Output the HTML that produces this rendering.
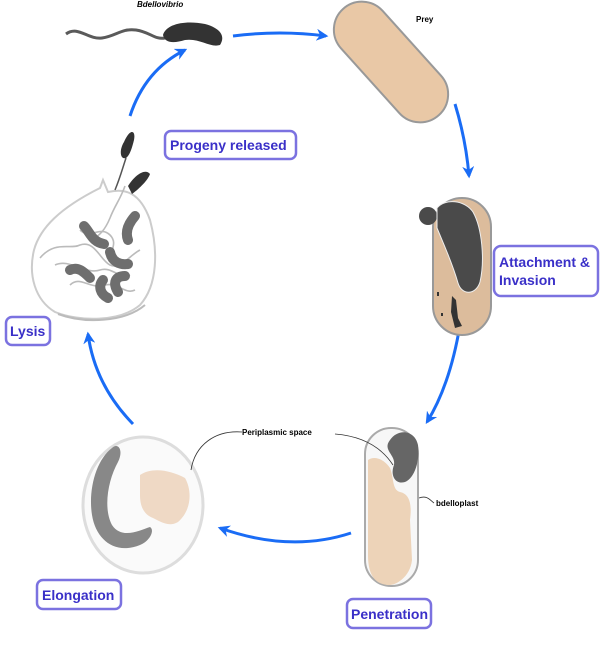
<!DOCTYPE html>
<html><head><meta charset="utf-8"><style>
html,body{margin:0;padding:0;background:#fff;}
svg{display:block;font-family:"Liberation Sans",sans-serif;}
.lbl{fill:#fff;stroke:#7b72e0;stroke-width:2.5;}
.lt{fill:#3a30c8;font-weight:bold;font-size:14px;}
.arr{fill:none;stroke:#1a6cf5;stroke-width:3;}
</style></head><body>
<svg width="600" height="649" viewBox="0 0 600 649" xmlns="http://www.w3.org/2000/svg">
<defs>
<marker id="ah" viewBox="0 0 10 10" refX="8" refY="5" markerWidth="4" markerHeight="4" orient="auto"><path d="M0,0 L10,5 L0,10 L3,5z" fill="#1a6cf5"/></marker>
</defs>

<path class="arr" d="M233,36 Q280,30 326,36" marker-end="url(#ah)"/>
<path class="arr" d="M455,104 Q466,140 469,176" marker-end="url(#ah)"/>
<path class="arr" d="M460,325 Q450,385 427,422" marker-end="url(#ah)"/>
<path class="arr" d="M351,533 Q290,553 220,528" marker-end="url(#ah)"/>
<path class="arr" d="M133,424 Q95,385 88,334" marker-end="url(#ah)"/>
<path class="arr" d="M130,116 Q145,70 185,50" marker-end="url(#ah)"/>

<text x="137" y="7" font-size="8" font-weight="bold" font-style="italic">Bdellovibrio</text>
<path d="M66,34 C78,25 88,40 102,38 C116,36 122,28 136,30 C150,32 155,40 165,38" fill="none" stroke="#5a5a5a" stroke-width="3"/>
<path d="M163,35 C166,24 185,20 205,24 C220,28 226,36 220,45 C210,48 200,38 185,40 C175,43 165,44 163,35z" fill="#333"/>

<text x="416" y="22" font-size="8" font-weight="bold">Prey</text>
<rect x="319.5" y="34" width="143" height="56" rx="28" fill="#e9c8a6" stroke="#999" stroke-width="2" transform="rotate(48 391 62)"/>

<rect x="433" y="198" width="58" height="137" rx="29" fill="#dcbc9c" stroke="#999" stroke-width="2"/>
<circle cx="428" cy="216" r="9" fill="#4a4a4a"/>
<path d="M437,208 C445,198 465,200 473,212 C482,228 485,260 480,282 C476,295 462,296 458,283 C452,262 444,245 437,228z" fill="#4a4a4a" stroke="#eee" stroke-width="1"/>
<path d="M452,296 L456,300 L458,318 L462,326 L455,328 L451,312z" fill="#333"/>
<rect x="437" y="292" width="2" height="4" fill="#333"/>
<rect x="441" y="313" width="2" height="3" fill="#333"/>
<rect x="494" y="246" width="104" height="50" rx="7" class="lbl"/>
<text x="499" y="267" class="lt">Attachment &amp;</text>
<text x="499" y="285" class="lt">Invasion</text>

<rect x="365" y="428" width="53" height="158" rx="26" fill="#f7f7f7" stroke="#aaa" stroke-width="2"/>
<path d="M368,460 C375,455 385,460 390,468 C394,478 392,490 400,492 C410,494 412,505 410,520 L412,560 C410,578 395,585 390,585 C375,585 368,575 368,555z" fill="#edd3b8"/>
<path d="M390,440 C398,428 415,430 418,445 C420,460 415,478 405,482 C395,485 390,475 394,465 C396,455 382,450 390,440z" fill="#666"/>
<path d="M335,434 C360,436 380,445 393,465" fill="none" stroke="#333" stroke-width="0.8"/>
<path d="M419,498 C427,495 430,500 434,503" fill="none" stroke="#333" stroke-width="0.8"/>
<text x="436" y="506" font-size="8" font-weight="bold">bdelloplast</text>
<rect x="347" y="599" width="84" height="29" rx="6" class="lbl"/>
<text x="351" y="619" class="lt">Penetration</text>

<ellipse cx="143" cy="505" rx="60" ry="68" fill="#fafafa" stroke="#ddd" stroke-width="3"/>
<path d="M112,448 C96,460 88,490 92,515 C96,540 115,555 140,545 C150,541 155,530 150,527 C140,530 122,540 112,525 C103,508 108,480 118,462 C124,450 118,442 112,448z" fill="#888"/>
<path d="M140,475 C152,467 170,470 185,478 C192,490 192,510 178,522 C168,528 158,520 153,518 C145,515 140,508 140,495z" fill="#efd9c5"/>
<path d="M191,470 C195,445 215,430 242,432" fill="none" stroke="#333" stroke-width="0.8"/>
<text x="242" y="435" font-size="8" font-weight="bold">Periplasmic space</text>
<rect x="37" y="580" width="84" height="29" rx="6" class="lbl"/>
<text x="42" y="600" class="lt">Elongation</text>

<path d="M100,188 L103,180 L108,192 C125,188 140,192 150,220 C158,250 158,285 140,305 C120,322 80,322 55,312 C35,300 28,275 34,250 C40,228 60,208 100,188z" fill="#fff" stroke="#ccc" stroke-width="2"/>
<path d="M58,314 C85,324 125,322 145,305" fill="none" stroke="#bbb" stroke-width="2"/>
<g fill="none" stroke="#bbb" stroke-width="1.6">
<path d="M40,258 C55,240 70,250 80,245 C95,240 100,260 110,265 C120,270 130,255 140,250"/>
<path d="M55,265 C70,258 85,275 100,270 C112,266 120,280 130,275"/>
<path d="M70,285 C80,275 90,290 105,285 C118,282 125,295 135,290"/>
<path d="M80,230 C90,240 100,225 110,235 C120,245 105,255 115,260"/>
<path d="M125,186 C120,200 115,205 110,218 C105,230 100,235 92,240"/>
</g>
<g fill="none" stroke="#6e6e6e" stroke-width="10" stroke-linecap="round">
<path d="M84,226 C90,232 92,242 104,244"/>
<path d="M135,216 C128,224 125,232 128,240"/>
<path d="M110,252 C112,262 120,265 128,264"/>
<path d="M70,270 C78,266 84,272 90,278"/>
<path d="M125,276 C116,276 112,282 118,292"/>
<path d="M103,280 C98,286 100,294 108,298"/>
</g>
<path d="M124,142 C130,128 136,130 134,140 C132,148 130,155 126,158 C120,160 119,150 124,142z" fill="#333"/>
<path d="M126,158 C122,170 120,178 115,190" fill="none" stroke="#555" stroke-width="1.5"/>
<path d="M128,186 C135,175 145,168 150,174 C148,180 140,188 132,194z" fill="#333"/>
<rect x="6" y="317" width="44" height="28" rx="6" class="lbl"/>
<text x="10" y="336" class="lt">Lysis</text>

<rect x="165" y="131" width="131" height="28" rx="6" class="lbl"/>
<text x="170" y="150" class="lt">Progeny released</text>
</svg>
</body></html>
